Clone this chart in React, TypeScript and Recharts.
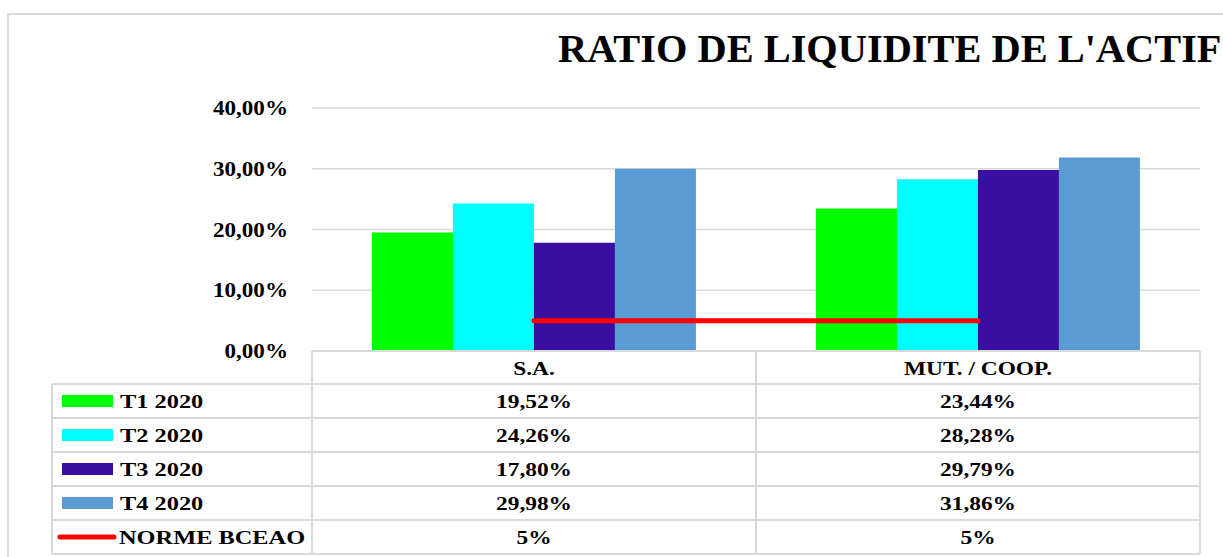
import { ComposedChart, Bar, Line, XAxis, YAxis, CartesianGrid } from "recharts";

const categories = ["S.A.", "MUT. / COOP."];
const t1 = [19.52, 23.44];
const t2 = [24.26, 28.28];
const t3 = [17.8, 29.79];
const t4 = [29.98, 31.86];
const norme = [5, 5];
const seriesNames = ["T1 2020", "T2 2020", "T3 2020", "T4 2020", "NORME BCEAO"];
const seriesColors = ["#00FF00", "#00FFFF", "#3A0EA0", "#5B9BD5", "#FF0000"];
const yTicks = [0, 10, 20, 30, 40];

const chartData = categories.map((name, i) => ({
  name,
  t1: t1[i],
  t2: t2[i],
  t3: t3[i],
  t4: t4[i],
  norme: norme[i],
}));

const rows = [t1, t2, t3, t4, norme];

const FONT = "'Liberation Serif', 'Times New Roman', serif";
const GRID = "#D9D9D9";

const fmtPct = (v: number) => v.toFixed(2).replace(".", ",") + "%";

// texte un peu étiré en largeur, comme dans l'image d'origine
function WideText({ x, y, sx, size, anchor, children }: any) {
  return (
    <g transform={`translate(${x},${y}) scale(${sx},1)`}>
      <text x={0} y={0} fontFamily={FONT} fontWeight="bold" fontSize={size} fill="#000" textAnchor={anchor || "start"}>
        {children}
      </text>
    </g>
  );
}

function YTick(props: any) {
  const { x, y, payload } = props;
  return (
    <WideText x={x} y={y + 7} sx={1.1} size={21} anchor="end">
      {fmtPct(payload.value)}
    </WideText>
  );
}

export default function App() {
  // tableau sous le graphique
  const plotLeft = 312;
  const plotRight = 1200;
  const tableLeft = 52;
  const rowEdges = [351, 384, 418, 452, 486, 520, 554];
  const colW = (plotRight - plotLeft) / categories.length;

  return (
    <div style={{ position: "absolute", left: 0, top: 0, width: 1223, height: 557, overflow: "hidden", background: "#fff" }}>
      <div style={{ position: "absolute", left: 7, top: 13, width: 1240, height: 600, border: `2px solid ${GRID}` }} />
      <div style={{ position: "absolute", left: 0, top: 0 }}>
        <ComposedChart
          width={1223}
          height={557}
          data={chartData}
          margin={{ top: 108, right: 23, bottom: 206, left: 0 }}
          barCategoryGap="13.5%"
          barGap={0}
        >
          <CartesianGrid vertical={false} stroke={GRID} strokeWidth={1.5} />
          <XAxis dataKey="name" hide />
          <YAxis
            width={312}
            domain={[0, 40]}
            ticks={yTicks}
            axisLine={false}
            tickLine={false}
            tickSize={0}
            tickMargin={24}
            tick={<YTick />}
          />
          <Bar dataKey="t1" fill={seriesColors[0]} isAnimationActive={false} />
          <Bar dataKey="t2" fill={seriesColors[1]} isAnimationActive={false} />
          <Bar dataKey="t3" fill={seriesColors[2]} isAnimationActive={false} />
          <Bar dataKey="t4" fill={seriesColors[3]} isAnimationActive={false} />
          <Line
            dataKey="norme"
            stroke={seriesColors[4]}
            strokeWidth={5}
            strokeLinecap="round"
            dot={false}
            isAnimationActive={false}
          />
        </ComposedChart>
      </div>
      <svg width={1223} height={557} style={{ position: "absolute", left: 0, top: 0, pointerEvents: "none" }}>
        <WideText x={558} y={62} sx={1.01} size={40}>
          RATIO DE LIQUIDITE DE L'ACTIF
        </WideText>
        {/* lignes du tableau */}
        <g stroke={GRID} strokeWidth={2}>
          <line x1={plotLeft} y1={rowEdges[0]} x2={plotRight} y2={rowEdges[0]} />
          {rowEdges.slice(1).map((y) => (
            <line key={y} x1={tableLeft} y1={y} x2={plotRight} y2={y} />
          ))}
          <line x1={tableLeft} y1={rowEdges[1]} x2={tableLeft} y2={rowEdges[6]} />
          {[0, 1, 2].map((c) => (
            <line key={c} x1={plotLeft + c * colW} y1={rowEdges[0]} x2={plotLeft + c * colW} y2={rowEdges[6]} />
          ))}
        </g>
        {categories.map((c, i) => (
          <WideText key={c} x={plotLeft + colW * (i + 0.5)} y={(rowEdges[0] + rowEdges[1]) / 2 + 7} sx={1.2} size={19.5} anchor="middle">
            {c}
          </WideText>
        ))}
        {rows.map((vals, r) =>
          vals.map((v, i) => (
            <WideText
              key={`${r}-${i}`}
              x={plotLeft + colW * (i + 0.5)}
              y={(rowEdges[r + 1] + rowEdges[r + 2]) / 2 + 7}
              sx={1.2}
              size={19.5}
              anchor="middle"
            >
              {r === 4 ? `${v}%` : fmtPct(v)}
            </WideText>
          ))
        )}
        {seriesNames.map((s, r) => {
          const cy = (rowEdges[r + 1] + rowEdges[r + 2]) / 2;
          return (
            <g key={s}>
              {r === 4 ? (
                <line x1={60} y1={cy} x2={114} y2={cy} stroke={seriesColors[r]} strokeWidth={5} strokeLinecap="round" />
              ) : (
                <rect x={62} y={cy - 6} width={51} height={12} fill={seriesColors[r]} />
              )}
              <WideText x={r === 4 ? 119 : 120} y={cy + 7} sx={1.25} size={19.5}>
                {s}
              </WideText>
            </g>
          );
        })}
      </svg>
    </div>
  );
}
